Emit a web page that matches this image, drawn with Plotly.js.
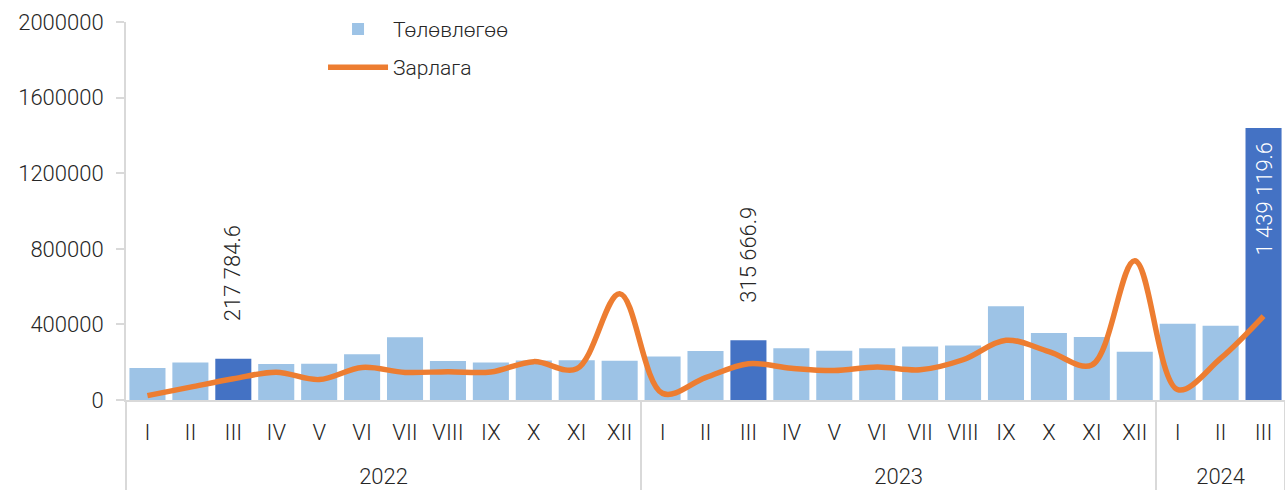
<!DOCTYPE html>
<html>
<head>
<meta charset="utf-8">
<script src="https://cdn.plot.ly/plotly-3.0.1.min.js"></script>
<style>html,body{margin:0;padding:0;background:#fff;}#chart{width:1285px;height:490px;}</style>
</head>
<body>
<div id="chart"></div>
<script>
const years = ["2022","2022","2022","2022","2022","2022","2022","2022","2022","2022","2022","2022",
               "2023","2023","2023","2023","2023","2023","2023","2023","2023","2023","2023","2023",
               "2024","2024","2024"];
const months = ["I","II","III","IV","V","VI","VII","VIII","IX","X","XI","XII",
                "I","II","III","IV","V","VI","VII","VIII","IX","X","XI","XII",
                "I","II","III"];
const planValues = [169000, 198000, 217784.6, 190000, 192000, 242000, 332000, 207000, 198000, 209000, 210000, 208000,
                    230000, 259000, 315666.9, 274000, 260000, 274000, 283000, 289000, 496000, 354000, 333000, 255000,
                    403000, 393000, 1439119.6];
const spendValues = [23000, 68000, 112000, 147000, 108000, 172000, 146000, 150000, 148000, 203000, 165000, 562000,
                     35000, 118000, 192000, 168000, 156000, 175000, 160000, 213000, 316000, 256000, 185000, 737000,
                     55000, 220000, 444000];
const highlightIdx = [2, 14, 26];
const yTicks = [0, 400000, 800000, 1200000, 1600000, 2000000];

const lightBlue = "#9DC3E6", darkBlue = "#4472C4", orange = "#ED7D31";
const barColors = planValues.map((v, i) => highlightIdx.includes(i) ? darkBlue : lightBlue);

function fmt(v) {
  const parts = v.toFixed(1).split(".");
  return parts[0].replace(/\B(?=(\d{3})+(?!\d))/g, " ") + "." + parts[1];
}

// month labels get an empty second line so the year row sits lower, as in the reference
const monthLabels = months.map(m => m + "<br> ");

const fontFam = "Roboto, 'Liberation Sans', sans-serif";
const txtCol = "#262626";

const traces = [
  {
    type: "bar", name: "Төлөвлөгөө", x: [years, monthLabels], y: planValues,
    marker: {color: barColors, line: {width: 0}}, legendgroup: "a", hoverinfo: "y"
  },
  {
    type: "scatter", mode: "lines", name: "Зарлага", x: [years, monthLabels], y: spendValues,
    line: {color: orange, width: 5.5, shape: "spline", smoothing: 1}, legendgroup: "b", hoverinfo: "y"
  }
];

const last = planValues.length - 1;
const annotations = highlightIdx.map(i => {
  const inside = i === last;
  return {
    xref: "x", yref: "y", x: i, y: planValues[i],
    text: fmt(planValues[i]), showarrow: false, textangle: -90,
    xanchor: "center", yanchor: inside ? "top" : "bottom",
    yshift: inside ? -12 : 36,
    font: {family: fontFam, size: 22, color: inside ? "#ffffff" : txtCol, weight: 300}
  };
});

const layout = {
  width: 1285, height: 490,
  margin: {l: 126, r: 0, t: 22, b: 90},
  paper_bgcolor: "#ffffff", plot_bgcolor: "#ffffff",
  font: {family: fontFam, size: 21, color: txtCol, weight: 300},
  bargap: 0.16,
  showlegend: true,
  legend: {
    x: 0.17, y: 1.035, xanchor: "left", yanchor: "top",
    bgcolor: "rgba(0,0,0,0)", font: {family: fontFam, size: 21, color: txtCol, weight: 300},
    traceorder: "grouped", tracegroupgap: 8, itemwidth: 60
  },
  xaxis: {
    type: "multicategory",
    showline: true, linecolor: "#d9d9d9", linewidth: 2,
    showgrid: false, zeroline: false,
    ticks: "", ticklabelstandoff: 12,
    showdividers: true, dividercolor: "#d9d9d9", dividerwidth: 2,
    tickfont: {family: fontFam, size: 22, color: txtCol, weight: 300}
  },
  yaxis: {
    range: [0, 2000000], tickvals: yTicks, ticktext: yTicks.map(String),
    showline: true, linecolor: "#d9d9d9", linewidth: 2,
    showgrid: false, zeroline: false,
    ticks: "outside", ticklen: 8, tickcolor: "#d9d9d9", tickwidth: 2,
    ticklabelstandoff: 8,
    tickfont: {family: fontFam, size: 22, color: txtCol, weight: 300}
  },
  annotations: annotations
};

Plotly.newPlot("chart", traces, layout, {displayModeBar: false, staticPlot: true});
</script>
</body>
</html>
